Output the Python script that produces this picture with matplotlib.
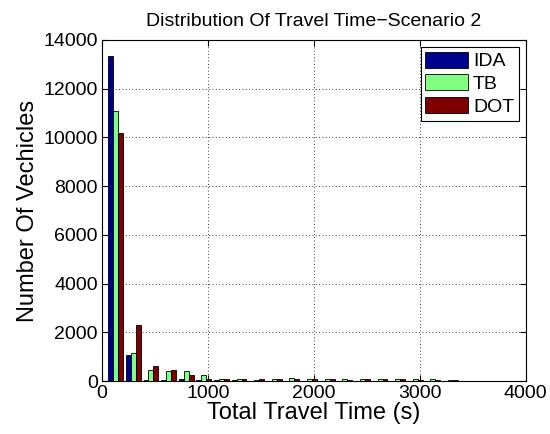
import numpy as np
import matplotlib.pyplot as plt

plt.rcParams['font.family'] = ['Liberation Sans', 'DejaVu Sans']

# histogram of total travel time, 20 bins
time_min = 46.0
time_max = 3373.0
n_bins = 20

ida = [13350, 1070, 40, 40, 90, 40, 30, 25, 10, 10,
       10, 10, 5, 5, 5, 5, 5, 5, 5, 5]
tb = [11100, 1150, 440, 410, 410, 245, 90, 70, 40, 95,
      135, 95, 95, 95, 95, 95, 95, 95, 95, 55]
dot = [10200, 2300, 600, 450, 235, 75, 75, 70, 70, 95,
       95, 95, 95, 55, 95, 70, 95, 55, 55, 55]

series = [("IDA", ida, "#00008f"), ("TB", tb, "#80ff80"), ("DOT", dot, "#800000")]

bin_w = (time_max - time_min) / n_bins
centers = time_min + bin_w * (np.arange(n_bins) + 0.5)
bar_w = bin_w * 0.28

fig = plt.figure(figsize=(5.5, 4.34), dpi=100)
ax = fig.add_axes([0.1855, 0.122, 0.7705, 0.786])

for k, (name, vals, col) in enumerate(series):
    ax.bar(centers + (k - 1) * bar_w, vals, width=bar_w, color=col,
           edgecolor="black", linewidth=0.6, label=name, zorder=3)

ax.set_xlim(0, 4000)
ax.set_ylim(0, 14000)
ax.set_xticks(np.arange(0, 4001, 1000))
ax.set_yticks(np.arange(0, 14001, 2000))
ax.grid(True, linestyle=(0, (1, 3)), color="black", linewidth=0.6)
ax.tick_params(direction="in", labelsize=14, top=True, right=True, length=4, pad=3)
ax.set_xlabel("Total Travel Time (s)", fontsize=17, labelpad=0)
ax.set_ylabel("Number Of Vechicles", fontsize=17, labelpad=3)
ax.set_title("Distribution Of Travel Time\u2212Scenario 2", fontsize=14, pad=10)
leg = ax.legend(loc="upper right", fontsize=14, fancybox=False, framealpha=1,
                edgecolor="black", handlelength=2.2, handleheight=0.9,
                borderaxespad=0.35, handletextpad=0.25, labelspacing=0.2,
                borderpad=0.25)
leg.get_frame().set_linewidth(0.8)

fig.savefig("out.png", dpi=100)
